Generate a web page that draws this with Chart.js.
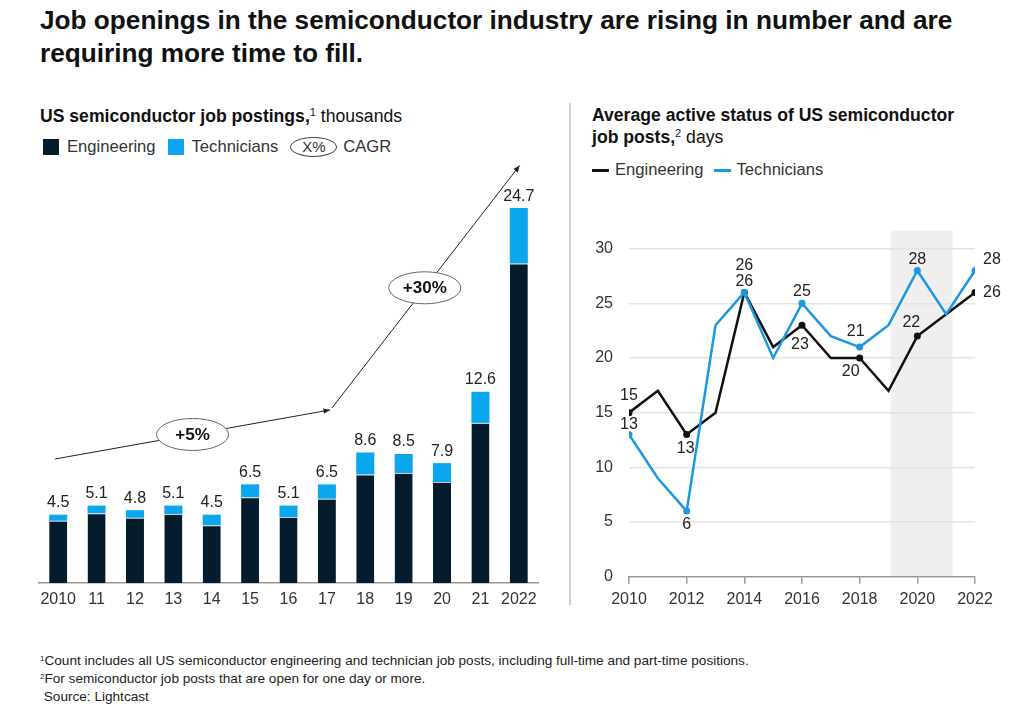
<!DOCTYPE html>
<html><head><meta charset="utf-8">
<script src="https://cdn.jsdelivr.net/npm/chart.js@4.4.1/dist/chart.umd.min.js"></script>
<style>
html,body{margin:0;padding:0;background:#fff;}
body{width:1023px;height:715px;position:relative;overflow:hidden;font-family:"Liberation Sans",Arial,sans-serif;color:#111;}
.abs{position:absolute;white-space:nowrap;}
#title{left:40px;top:4px;font-size:26.2px;font-weight:bold;line-height:33px;}
.sub{font-size:17.6px;line-height:22px;}
.sub b{font-weight:bold;}
.sup{font-size:11px;position:relative;top:-6px;}
.leg{font-size:16.6px;color:#333;line-height:18px;display:flex;align-items:center;}
.sq{display:inline-block;width:16px;height:16px;margin-right:8px;}
.ln{display:inline-block;width:17px;height:3px;margin-right:6px;}
.ell{display:inline-block;width:45px;height:18px;border:1px solid #444;border-radius:50%;text-align:center;line-height:18px;font-size:15px;margin-right:6px;}
#sep{left:569px;top:103px;width:1.5px;height:502px;background:#cfcfcf;}
#foot{left:40px;top:653px;font-size:13.6px;line-height:16px;color:#222;}
#foot .fs{font-size:8px;position:relative;top:-4px;}
canvas{position:absolute;}
</style>
</head><body>
<div id="title" class="abs">Job openings in the semiconductor industry are rising in number and are<br>requiring more time to fill.</div>

<div class="abs sub" style="left:40px;top:105px;"><b>US semiconductor job postings,</b><span class="sup">1</span> thousands</div>
<div class="abs leg" style="left:43px;top:137px;">
  <span class="sq" style="background:#051c2c"></span><span style="margin-right:12px">Engineering</span>
  <span class="sq" style="background:#0aa6ee"></span><span style="margin-right:12px">Technicians</span>
  <span class="ell">X%</span><span>CAGR</span>
</div>

<div id="sep" class="abs"></div>

<div class="abs sub" style="left:592px;top:104px;"><b>Average active status of US semiconductor</b><br><b>job posts,</b><span class="sup">2</span> days</div>
<div class="abs leg" style="left:592px;top:161px;">
  <span class="ln" style="background:#111"></span><span style="margin-right:10px">Engineering</span>
  <span class="ln" style="background:#1b98e0"></span><span>Technicians</span>
</div>

<canvas id="barChart" width="530" height="455" style="left:20px;top:160px;"></canvas>
<canvas id="lineChart" width="440" height="410" style="left:575px;top:205px;"></canvas>

<div id="foot" class="abs"><span class="fs">1</span>Count includes all US semiconductor engineering and technician job posts, including full-time and part-time positions.<br><span class="fs">2</span>For semiconductor job posts that are open for one day or more.<br>&nbsp;Source: Lightcast</div>

<script>
// ---------- data ----------
const barCategories = ['2010','11','12','13','14','15','16','17','18','19','20','21','2022'];
const engPostings  = [4.1, 4.6, 4.3, 4.55, 3.8, 5.65, 4.35, 5.55, 7.15, 7.25, 6.65, 10.55, 21.05];
const techPostings = [0.4, 0.5, 0.5, 0.55, 0.7, 0.85, 0.75, 0.95, 1.45, 1.25, 1.25, 2.05, 3.65];
const cagrLabels = ['+5%', '+30%'];

const lineYears = [2010,2011,2012,2013,2014,2015,2016,2017,2018,2019,2020,2021,2022];
const engDays  = [15,17,13,15,26,21,23,20,20,17,22,24,26];
const techDays = [13, 9, 6,23,26,20,25,22,21,23,28,24,28];
const dayTicks = [0,5,10,15,20,25,30];
const yearTicks = [2010,2012,2014,2016,2018,2020,2022];
const shadedYears = [2019.08, 2021.22];

// ---------- styling / layout ----------
const FONT = '"Liberation Sans", Arial, sans-serif';
Chart.defaults.font.family = FONT;
const ENG_BAR = '#051c2c', TECH_BAR = '#0aa6ee';
const ENG_LINE = '#111111', TECH_LINE = '#1b98e0';

// CAGR arrow anchors in (category index, value) coordinates
const cagrPath = [[-0.08, 8.17], [7.08, 11.4], [12.02, 27.5]];

// label offsets for line chart: [dx, dy, align] per even index
const engLabelPos = {0:[0,-17,'center'],2:[-1,14,'center'],4:[0,-27,'center'],6:[-2,19,'center'],8:[-9,14,'center'],10:[-6,-14,'center'],12:[8,0,'left']};
const techLabelPos = {0:[0,-10,'center'],2:[0,14,'center'],4:[0,-11,'center'],6:[0,-12,'center'],8:[-4,-15,'center'],10:[0,-11,'center'],12:[8,-11,'left']};

const barLabelsPlugin = {
  id:'barLabels',
  afterDatasetsDraw(chart){
    const ctx = chart.ctx;
    const meta = chart.getDatasetMeta(1);
    ctx.save();
    ctx.font = '16px ' + FONT;
    ctx.fillStyle = '#222';
    ctx.textAlign = 'center';
    ctx.textBaseline = 'middle';
    meta.data.forEach((el,i)=>{
      const total = (engPostings[i] + techPostings[i]).toFixed(1);
      ctx.fillText(total, el.x, el.y - 12);
    });
    ctx.restore();
  }
};

function arrowHead(ctx, x1, y1, x2, y2, size){
  const a = Math.atan2(y2-y1, x2-x1);
  ctx.beginPath();
  ctx.moveTo(x2, y2);
  ctx.lineTo(x2 - size*Math.cos(a-0.4), y2 - size*Math.sin(a-0.4));
  ctx.lineTo(x2 - size*Math.cos(a+0.4), y2 - size*Math.sin(a+0.4));
  ctx.closePath();
  ctx.fill();
}

const cagrPlugin = {
  id:'cagr',
  afterDatasetsDraw(chart){
    const ctx = chart.ctx, xs = chart.scales.x, ys = chart.scales.y;
    const pts = cagrPath.map(p=>[xs.getPixelForValue(p[0]), ys.getPixelForValue(p[1])]);
    ctx.save();
    ctx.strokeStyle = '#222'; ctx.fillStyle = '#222'; ctx.lineWidth = 1;
    for(let i=0;i<pts.length-1;i++){
      const [x1,y1] = pts[i], [x2,y2] = pts[i+1];
      const sx = i===0 ? x1 : x1+2, sy = i===0 ? y1 : y1-2;
      ctx.beginPath(); ctx.moveTo(sx,sy); ctx.lineTo(x2,y2); ctx.stroke();
      arrowHead(ctx, sx, sy, x2, y2, 7);
    }
    const spots = [[0, 0.5], [1, 0.5]];
    spots.forEach(([seg, t], k)=>{
      const [x1,y1] = pts[seg], [x2,y2] = pts[seg+1];
      const cx = x1 + (x2-x1)*t, cy = y1 + (y2-y1)*t;
      ctx.beginPath();
      ctx.ellipse(cx, cy, 36, 16, 0, 0, Math.PI*2);
      ctx.fillStyle = '#fff'; ctx.fill();
      ctx.strokeStyle = '#666'; ctx.stroke();
      ctx.fillStyle = '#111';
      ctx.font = 'bold 17px ' + FONT;
      ctx.textAlign = 'center'; ctx.textBaseline = 'middle';
      ctx.fillText(cagrLabels[k], cx, cy+1);
    });
    ctx.restore();
  }
};

new Chart(document.getElementById('barChart'), {
  type:'bar',
  data:{labels:barCategories, datasets:[
    {label:'Engineering', data:engPostings, backgroundColor:ENG_BAR, borderColor:'#c3ccd1',
     borderWidth:{top:1,left:0,right:0,bottom:0}, borderSkipped:false, barPercentage:0.47, categoryPercentage:1},
    {label:'Technicians', data:techPostings, backgroundColor:TECH_BAR, borderWidth:0, barPercentage:0.47, categoryPercentage:1}
  ]},
  options:{
    responsive:false, animation:false, events:[],
    layout:{padding:{left:19,right:12,top:0,bottom:0}},
    plugins:{legend:{display:false}, tooltip:{enabled:false}},
    scales:{
      x:{stacked:true, grid:{display:false, drawTicks:false}, border:{display:true,color:'#9a9a9a',width:1.5},
         ticks:{color:'#333', font:{size:16}, padding:7, autoSkip:false, maxRotation:0},
         afterFit:s=>{s.height=32;}},
      y:{stacked:true, display:false, min:0, max:27.87}
    }
  },
  plugins:[barLabelsPlugin, cagrPlugin]
});

const bandPlugin = {
  id:'band',
  beforeDraw(chart){
    const ctx = chart.ctx, xs = chart.scales.x, a = chart.chartArea;
    const x1 = xs.getPixelForValue(shadedYears[0]), x2 = xs.getPixelForValue(shadedYears[1]);
    ctx.save(); ctx.fillStyle = '#efefef';
    ctx.fillRect(x1, a.top, x2-x1, a.bottom-a.top);
    ctx.restore();
  }
};

const lineLabelsPlugin = {
  id:'lineLabels',
  afterDatasetsDraw(chart){
    const ctx = chart.ctx;
    ctx.save();
    ctx.font = '16px ' + FONT; ctx.fillStyle = '#222'; ctx.textBaseline = 'middle';
    [[0, engDays, engLabelPos],[1, techDays, techLabelPos]].forEach(([di, vals, pos])=>{
      const meta = chart.getDatasetMeta(di);
      meta.data.forEach((el,i)=>{
        const p = pos[i]; if(!p) return;
        ctx.textAlign = p[2];
        ctx.fillText(String(vals[i]), el.x + p[0], el.y + p[1]);
      });
    });
    ctx.restore();
  }
};

new Chart(document.getElementById('lineChart'), {
  type:'line',
  data:{datasets:[
    {label:'Engineering', order:1, data:lineYears.map((y,i)=>({x:y,y:engDays[i]})), borderColor:ENG_LINE, backgroundColor:ENG_LINE,
     borderWidth:2.5, pointRadius:c=>c.dataIndex%2===0?3.5:0, pointBorderWidth:0, tension:0},
    {label:'Technicians', order:0, data:lineYears.map((y,i)=>({x:y,y:techDays[i]})), borderColor:TECH_LINE, backgroundColor:TECH_LINE,
     borderWidth:2.5, pointRadius:c=>c.dataIndex%2===0?3.5:0, pointBorderWidth:0, tension:0}
  ]},
  options:{
    responsive:false, animation:false, events:[],
    layout:{padding:{left:0,right:40,top:5,bottom:0}},
    plugins:{legend:{display:false}, tooltip:{enabled:false}},
    scales:{
      x:{type:'linear', min:2010, max:2022,
         afterBuildTicks:s=>{s.ticks = yearTicks.map(v=>({value:v}));},
         ticks:{color:'#333', font:{size:16}, padding:6, maxRotation:0, callback:v=>String(v)},
         grid:{drawOnChartArea:false, drawTicks:true, tickLength:7, color:'#9a9a9a', lineWidth:1.5},
         border:{display:true, color:'#9a9a9a', width:1.5},
         afterFit:s=>{s.height=38.3;}},
      y:{min:0, max:31.65,
         afterBuildTicks:s=>{s.ticks = dayTicks.map(v=>({value:v}));},
         ticks:{color:'#333', font:{size:16}, padding:16},
         grid:{color:c=>c.tick && c.tick.value===0?'rgba(0,0,0,0)':'#e3e3e3', lineWidth:1.5, drawTicks:false},
         border:{display:false},
         afterFit:s=>{s.width=54;}}
    }
  },
  plugins:[bandPlugin, lineLabelsPlugin]
});
</script>
</body></html>
